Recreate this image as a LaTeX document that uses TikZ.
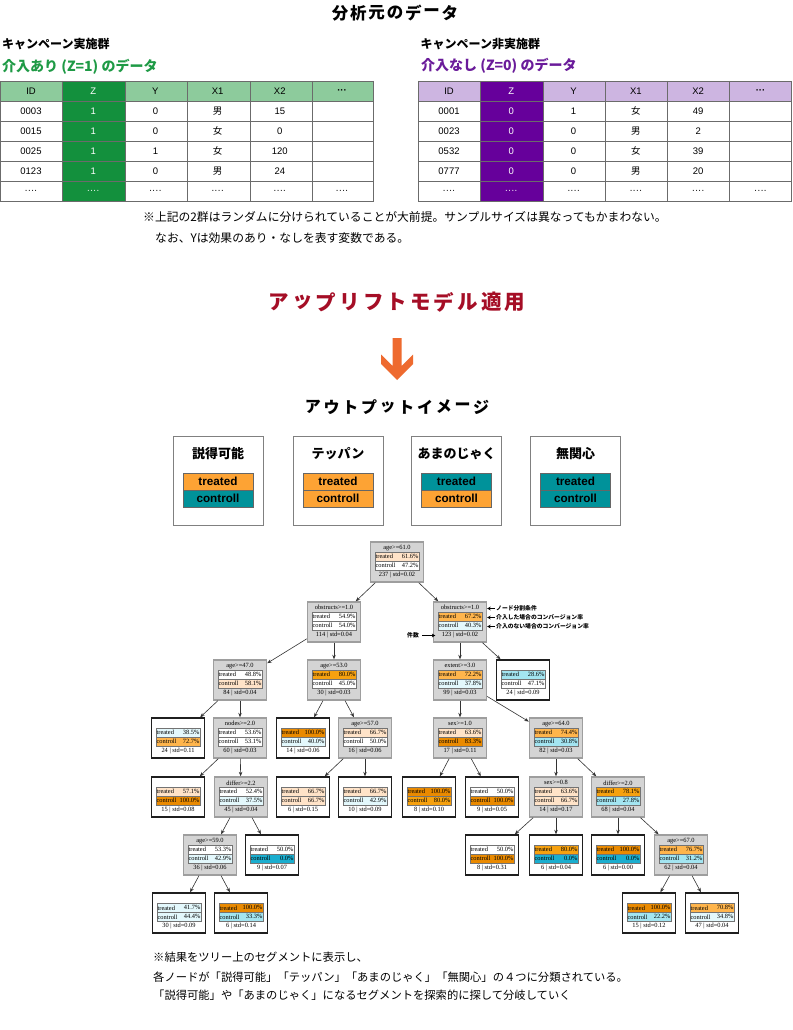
\documentclass[tikz,border=0pt]{standalone}
\usepackage{fontspec}
\setmainfont{Liberation Sans}
\newfontfamily\jp{Noto Sans CJK JP}
\newfontfamily\tms{Liberation Serif}
\usetikzlibrary{calc,arrows.meta}

\definecolor{hdrG}{HTML}{8DCB9C}
\definecolor{zG}{HTML}{13903D}
\definecolor{hdrP}{HTML}{CDB5E1}
\definecolor{zP}{HTML}{66009B}
\definecolor{ttlG}{HTML}{1E9A45}
\definecolor{ttlP}{HTML}{6A1B9A}
\definecolor{redT}{HTML}{A50E26}
\definecolor{arrO}{HTML}{EE6A2F}
\definecolor{legO}{HTML}{FDA334}
\definecolor{legT}{HTML}{00929A}
\definecolor{cPO}{HTML}{FFE3C8}
\definecolor{cLO}{HTML}{FFB54C}
\definecolor{cMO}{HTML}{F6A10F}
\definecolor{cDO}{HTML}{EA8A00}
\definecolor{cWH}{HTML}{FFFFFF}
\definecolor{cLC}{HTML}{E3F8FC}
\definecolor{cMC}{HTML}{A3E5F1}
\definecolor{cDC}{HTML}{1BAECF}
\definecolor{inGray}{HTML}{D4D4D4}

\newcommand\tn[6]{%
  \node[#2] (#1) at (#3,#4) {};
  \node[tt] (#1h) at ($(#1.north)+(0,6.5)$) {#5};
  \node[tt] (#1c) at ($(#1.north)+(0,33.5)$) {#6};}
\newcommand\tr[5]{%
  \draw[rowb, fill=#2] ($(#1.north west)+(5,11)$) rectangle ($(#1.north east)+(-5,20)$);
  \draw[rowb, fill=#4] ($(#1.north west)+(5,20)$) rectangle ($(#1.north east)+(-5,29)$);
  \node[tt,anchor=west] (#1tl) at ($(#1.north west)+(5.6,15.5)$) {treated};
  \node[tt,anchor=east] (#1tv) at ($(#1.north east)+(-5.6,15.5)$) {#3\%};
  \node[tt,anchor=west] (#1cl) at ($(#1.north west)+(5.6,24.5)$) {controll};
  \node[tt,anchor=east] (#1cv) at ($(#1.north east)+(-5.6,24.5)$) {#5\%};}
\newcommand\leg[5]{%
  \node[legbox] (#1) at (#2,480.5) {};
  \node[legttl] (#1t) at (#2,454) {#3};
  \node[legbar, fill=#4] (#1a) at (#2,481.5) {treated};
  \node[legbar, fill=#5] (#1b) at (#2,498.5) {controll};}

\begin{document}
\begin{tikzpicture}[x=1pt,y=-1pt,
  grid/.style={draw=black!58, line width=0.7pt},
  cell/.style={font=\fontsize{9.5}{11}\selectfont, inner sep=0pt},
  inode/.style={draw=black!38, fill=inGray, line width=1.4pt, minimum width=53pt, minimum height=40pt, inner sep=0pt},
  lnode/.style={draw=black!88, fill=white, line width=1.4pt, minimum width=53pt, minimum height=40pt, inner sep=0pt},
  tt/.style={font=\tms\fontsize{6.4}{7}\selectfont, inner sep=0pt},
  rowb/.style={draw=black!55, line width=0.5pt},
  edge/.style={draw=black!80, line width=0.6pt, -{Stealth[length=4.5pt,width=3.5pt]}},
  ann/.style={font=\jp\bfseries\fontsize{5.8}{7}\selectfont, inner sep=0pt, anchor=west},
  annarr/.style={line width=0.9pt, -{Stealth[length=3.5pt,width=3.8pt]}},
  legbox/.style={draw=black!50, line width=0.9pt, minimum width=90pt, minimum height=89pt, inner sep=0pt},
  legttl/.style={font=\jp\bfseries\fontsize{13}{15}\selectfont, inner sep=0pt},
  legbar/.style={draw=black!60, line width=0.6pt, minimum width=70pt, minimum height=17pt, inner sep=0pt, font=\bfseries\fontsize{11.7}{13}\selectfont},
  note/.style={font=\jp\fontsize{11.8}{14}\selectfont, inner sep=0pt, anchor=west},
  note2/.style={font=\jp\fontsize{11.3}{14}\selectfont, inner sep=0pt, anchor=west},
]
\useasboundingbox (0,0) rectangle (792,1030);
\fill[white] (0,0) rectangle (792,1030);

% ---------- top title ----------
\foreach \ch [count=\i from 0] in {分,析,元,の,デ,ー,タ}
  \node[font=\jp\bfseries\fontsize{16.5}{18}\selectfont, inner sep=0pt] (ttl\i) at ({340.1+18.3*\i},13) {\ch};

% ---------- left group ----------
\node[font=\jp\bfseries\fontsize{12}{14}\selectfont, inner sep=0pt, anchor=west] (gL1) at (2,44) {キャンペーン実施群};
\node[font=\jp\bfseries\fontsize{14}{16}\selectfont, inner sep=0pt, anchor=west, text=ttlG] (gL2) at (2,67) {介入あり (Z=1) のデータ};
\fill[hdrG] (0,81) rectangle (373,101.1);
\fill[zG] (62,81) rectangle (125,201.6);
\foreach \k in {0,...,6} \draw[grid] (0,{81+20.1*\k}) -- (373,{81+20.1*\k});
\foreach \xx in {0,62,125,187.5,250,312,373} \draw[grid] (\xx,81) -- (\xx,201.6);
\foreach \row [count=\r from 0] in {{ID,Z,Y,X1,X2,{\bfseries\raisebox{-4pt}{···}}},{0003,1,0,{\jp 男},15},{0015,1,0,{\jp 女},0},{0025,1,1,{\jp 女},120},{0123,1,0,{\jp 男},24},{····,····,····,····,····,····}}{
  \foreach \cc [count=\c from 0] in \row {
    \ifnum\c=1 \def\tcol{white}\else\def\tcol{black}\fi
    \node[cell,text=\tcol] (L\r-\c) at ({31+62.2*\c},{91.05+20.1*\r}) {\cc};
  }
}

% ---------- right group ----------
\node[font=\jp\bfseries\fontsize{12}{14}\selectfont, inner sep=0pt, anchor=west] (gR1) at (420.5,44) {キャンペーン非実施群};
\node[font=\jp\bfseries\fontsize{14}{16}\selectfont, inner sep=0pt, anchor=west, text=ttlP] (gR2) at (421,66) {介入なし (Z=0) のデータ};
\fill[hdrP] (418,81) rectangle (792,101.1);
\fill[zP] (480,81) rectangle (543,201.6);
\foreach \k in {0,...,6} \draw[grid] (418,{81+20.1*\k}) -- (792,{81+20.1*\k});
\foreach \xx in {418,480,543,605,667,729,791.6} \draw[grid] (\xx,81) -- (\xx,201.6);
\foreach \row [count=\r from 0] in {{ID,Z,Y,X1,X2,{\bfseries\raisebox{-4pt}{···}}},{0001,0,1,{\jp 女},49},{0023,0,0,{\jp 男},2},{0532,0,0,{\jp 女},39},{0777,0,0,{\jp 男},20},{····,····,····,····,····,····}}{
  \foreach \cc [count=\c from 0] in \row {
    \ifnum\c=1 \def\tcol{white}\else\def\tcol{black}\fi
    \node[cell,text=\tcol] (R\r-\c) at ({449+62.3*\c},{91.05+20.1*\r}) {\cc};
  }
}

% ---------- notes ----------
\node[note] (nt1) at (143,217) {※上記の2群はランダムに分けられていることが大前提。サンプルサイズは異なってもかまわない。};
\node[note] (nt2) at (155,238) {なお、Yは効果のあり・なしを表す変数である。};

% ---------- uplift heading and arrow ----------
\foreach \ch [count=\i from 0] in {ア,ッ,プ,リ,フ,ト,モ,デ,ル,適,用}
  \node[font=\jp\bfseries\fontsize{20.5}{22}\selectfont, inner sep=0pt, text=redT] (up\i) at ({279+23.6*\i},302) {\ch};
\fill[arrO] (392.5,338) -- (401.5,338) -- (401.5,366) -- (413,354.5) -- (413,364) -- (397,380) -- (381,364) -- (381,354.5) -- (392.5,366) -- cycle;
\foreach \ch [count=\i from 0] in {ア,ウ,ト,プ,ッ,ト,イ,メ,ー,ジ}
  \node[font=\jp\bfseries\fontsize{16}{18}\selectfont, inner sep=0pt] (out\i) at ({312.9+18.7*\i},407) {\ch};

% ---------- legend ----------
\leg{lg1}{218}{説得可能}{legO}{legT}
\leg{lg2}{338}{テッパン}{legO}{legO}
\leg{lg3}{456.5}{あまのじゃく}{legT}{legO}
\leg{lg4}{575.5}{無関心}{legT}{legT}

% ---------- tree ----------
\tn{n0}{inode}{397}{562}{age>=61.0}{237 | std=0.02}
\tn{n1}{inode}{334}{622}{obstructs>=1.0}{114 | std=0.04}
\tn{n2}{inode}{460}{622}{obstructs>=1.0}{123 | std=0.02}
\tn{n3}{inode}{240}{680}{age>=47.0}{84 | std=0.04}
\tn{n4}{inode}{334}{680}{age>=53.0}{30 | std=0.03}
\tn{n5}{inode}{460}{680}{extent>=3.0}{99 | std=0.03}
\tn{n6}{lnode}{523}{680}{}{24 | std=0.09}
\tn{n7}{lnode}{178}{738}{}{24 | std=0.11}
\tn{n8}{inode}{240}{738}{nodes>=2.0}{60 | std=0.03}
\tn{n9}{lnode}{303}{738}{}{14 | std=0.06}
\tn{n10}{inode}{365}{738}{age>=57.0}{16 | std=0.06}
\tn{n11}{inode}{460}{738}{sex>=1.0}{17 | std=0.11}
\tn{n12}{inode}{556}{738}{age>=64.0}{82 | std=0.03}
\tn{n13}{lnode}{178}{797}{}{15 | std=0.08}
\tn{n14}{inode}{241}{797}{differ>=2.2}{45 | std=0.04}
\tn{n15}{lnode}{303}{797}{}{6 | std=0.15}
\tn{n16}{lnode}{365}{797}{}{10 | std=0.09}
\tn{n17}{lnode}{429}{797}{}{8 | std=0.10}
\tn{n18}{lnode}{492}{797}{}{9 | std=0.05}
\tn{n19}{inode}{556}{797}{sex>=0.8}{14 | std=0.17}
\tn{n20}{inode}{618}{797}{differ>=2.0}{68 | std=0.04}
\tn{n21}{inode}{210}{855}{age>=59.0}{36 | std=0.06}
\tn{n22}{lnode}{272}{855}{}{9 | std=0.07}
\tn{n23}{lnode}{492}{855}{}{8 | std=0.31}
\tn{n24}{lnode}{556}{855}{}{6 | std=0.04}
\tn{n25}{lnode}{618}{855}{}{6 | std=0.00}
\tn{n26}{inode}{681}{855}{age>=67.0}{62 | std=0.04}
\tn{n27}{lnode}{179}{913}{}{30 | std=0.09}
\tn{n28}{lnode}{241}{913}{}{6 | std=0.14}
\tn{n29}{lnode}{649}{913}{}{15 | std=0.12}
\tn{n30}{lnode}{712}{913}{}{47 | std=0.04}

\tr{n0}{cPO}{61.6}{cWH}{47.2}
\tr{n1}{cWH}{54.9}{cWH}{54.0}
\tr{n2}{cLO}{67.2}{cLC}{40.3}
\tr{n3}{cWH}{48.8}{cPO}{58.1}
\tr{n4}{cMO}{80.0}{cWH}{45.0}
\tr{n5}{cLO}{72.2}{cLC}{37.8}
\tr{n6}{cMC}{28.6}{cWH}{47.1}
\tr{n7}{cLC}{38.5}{cLO}{72.7}
\tr{n8}{cWH}{53.6}{cWH}{53.1}
\tr{n9}{cDO}{100.0}{cLC}{40.0}
\tr{n10}{cPO}{66.7}{cWH}{50.0}
\tr{n11}{cPO}{63.6}{cDO}{83.3}
\tr{n12}{cLO}{74.4}{cMC}{30.8}
\tr{n13}{cPO}{57.1}{cDO}{100.0}
\tr{n14}{cWH}{52.4}{cLC}{37.5}
\tr{n15}{cPO}{66.7}{cPO}{66.7}
\tr{n16}{cPO}{66.7}{cLC}{42.9}
\tr{n17}{cDO}{100.0}{cMO}{80.0}
\tr{n18}{cWH}{50.0}{cDO}{100.0}
\tr{n19}{cPO}{63.6}{cPO}{66.7}
\tr{n20}{cMO}{78.1}{cMC}{27.8}
\tr{n21}{cWH}{53.3}{cLC}{42.9}
\tr{n22}{cWH}{50.0}{cDC}{0.0}
\tr{n23}{cWH}{50.0}{cDO}{100.0}
\tr{n24}{cMO}{80.0}{cDC}{0.0}
\tr{n25}{cDO}{100.0}{cDC}{0.0}
\tr{n26}{cLO}{76.7}{cMC}{31.2}
\tr{n27}{cLC}{41.7}{cLC}{44.4}
\tr{n28}{cDO}{100.0}{cMC}{33.3}
\tr{n29}{cDO}{100.0}{cMC}{22.2}
\tr{n30}{cLO}{70.8}{cLC}{34.8}

\foreach \a/\b in {n0/n1,n0/n2,n1/n3,n1/n4,n2/n5,n2/n6,n3/n7,n3/n8,n4/n9,n4/n10,n5/n11,n5/n12,n8/n13,n8/n14,n10/n15,n10/n16,n11/n17,n11/n18,n12/n19,n12/n20,n14/n21,n14/n22,n19/n23,n19/n24,n20/n25,n20/n26,n21/n27,n21/n28,n26/n29,n26/n30}
  \draw[edge] (\a) -- (\b);

% ---------- annotations ----------
\node[ann] (a1) at (496,608.5) {ノード分割条件};
\node[ann] (a2) at (496,617.5) {介入した場合のコンバージョン率};
\node[ann] (a3) at (496,626.5) {介入のない場合のコンバージョン率};
\node[ann, anchor=east] (a4) at (419,635.5) {件数};
\foreach \a in {a1,a2,a3}
  \draw[annarr] ([xshift=-0.8pt]\a.west) -- (\a.west -| n2.east);
\draw[annarr] ([xshift=3pt]a4.east) -- ([xshift=2.5pt]a4.east -| n2.west);

% ---------- bottom notes ----------
\node[note2] (b1) at (153,957) {※結果をツリー上のセグメントに表示し、};
\node[note2] (b2) at (153,977) {各ノードが「説得可能」「テッパン」「あまのじゃく」「無関心」の４つに分類されている。};
\node[note2] (b3) at (153,995.5) {「説得可能」や「あまのじゃく」になるセグメントを探索的に探して分岐していく};
\end{tikzpicture}
\end{document}
